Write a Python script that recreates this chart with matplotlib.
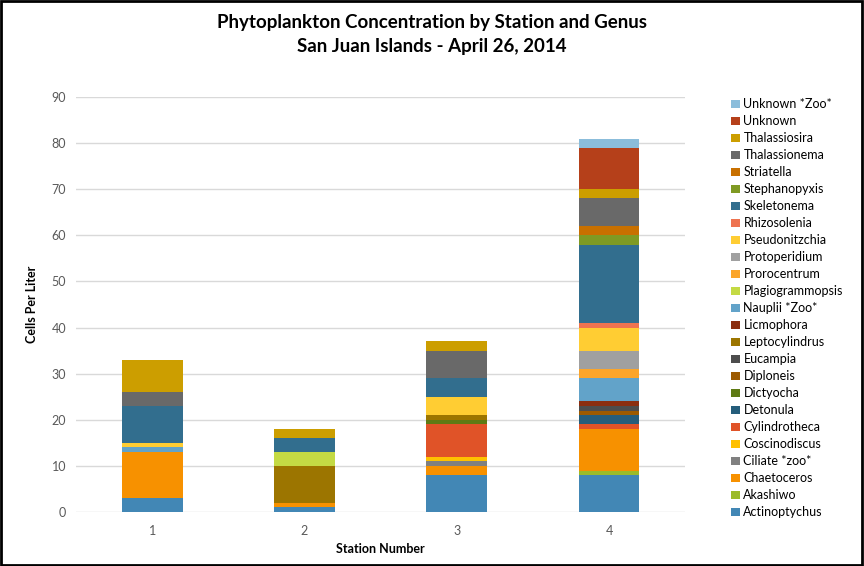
import numpy as np
import matplotlib
matplotlib.use("Agg")
import matplotlib.pyplot as plt
from matplotlib.patches import Patch, Rectangle

plt.rcParams['font.family'] = ['Lato', 'DejaVu Sans']

# data (bottom of stack first)
stations = ["1", "2", "3", "4"]
genera = ["Actinoptychus", "Akashiwo", "Chaetoceros", "Ciliate *zoo*", "Coscinodiscus",
          "Cylindrotheca", "Detonula", "Dictyocha", "Diploneis", "Eucampia",
          "Leptocylindrus", "Licmophora", "Nauplii *Zoo*", "Plagiogrammopsis", "Prorocentrum",
          "Protoperidium", "Pseudonitzchia", "Rhizosolenia", "Skeletonema", "Stephanopyxis",
          "Striatella", "Thalassionema", "Thalassiosira", "Unknown", "Unknown *Zoo*"]
counts = {
    "Actinoptychus":    [3, 1, 8, 8],
    "Akashiwo":         [0, 0, 0, 1],
    "Chaetoceros":      [10, 1, 2, 9],
    "Ciliate *zoo*":    [0, 0, 1, 0],
    "Coscinodiscus":    [0, 0, 1, 0],
    "Cylindrotheca":    [0, 0, 7, 1],
    "Detonula":         [0, 0, 0, 2],
    "Dictyocha":        [0, 0, 1, 0],
    "Diploneis":        [0, 0, 0, 1],
    "Eucampia":         [0, 0, 0, 1],
    "Leptocylindrus":   [0, 8, 1, 0],
    "Licmophora":       [0, 0, 0, 1],
    "Nauplii *Zoo*":    [1, 0, 0, 5],
    "Plagiogrammopsis": [0, 3, 0, 0],
    "Prorocentrum":     [0, 0, 0, 2],
    "Protoperidium":    [0, 0, 0, 4],
    "Pseudonitzchia":   [1, 0, 4, 5],
    "Rhizosolenia":     [0, 0, 0, 1],
    "Skeletonema":      [8, 3, 4, 17],
    "Stephanopyxis":    [0, 0, 0, 2],
    "Striatella":       [0, 0, 0, 2],
    "Thalassionema":    [3, 0, 6, 6],
    "Thalassiosira":    [7, 2, 2, 2],
    "Unknown":          [0, 0, 0, 9],
    "Unknown *Zoo*":    [0, 0, 0, 2],
}
colors = ["#4287B5", "#9BBB2A", "#F79100", "#808080", "#FFC000",
          "#E05328", "#255D7B", "#5E7A14", "#9C5A00", "#4D4D4D",
          "#9C7500", "#8B2E10", "#62A3C9", "#C4DA44", "#FBA52A",
          "#A0A0A0", "#FFCD33", "#EE7350", "#326E8E", "#7F9A23",
          "#C87000", "#696969", "#CC9E00", "#B5401A", "#8BBDDB"]

fig = plt.figure(figsize=(8.64, 5.66), dpi=100)
ax = fig.add_axes([0.088, 0.0954, 0.705, 0.7332])

x = np.arange(1, len(stations) + 1)
bottom = np.zeros(len(stations))
for g, c in zip(genera, colors):
    v = np.array(counts[g], dtype=float)
    ax.bar(x, v, 0.4, bottom=bottom, color=c, label=g, zorder=3)
    bottom += v

ax.set_xlim(0.5, 4.5)
ax.set_ylim(0, 90)
ax.set_yticks(range(0, 91, 10))
ax.set_xticks(x)
ax.set_xticklabels(stations)
ax.grid(axis='y', color='#D9D9D9', linewidth=1, zorder=0)
for s in ax.spines.values():
    s.set_visible(False)
ax.tick_params(length=0, colors='#595959', labelsize=9)
ax.tick_params(axis='y', pad=7)
ax.tick_params(axis='x', pad=9)
ax.set_ylabel("Cells Per Liter", fontsize=9, fontweight='bold', labelpad=10)
ax.set_xlabel("Station Number", fontsize=9, fontweight='bold', labelpad=5)

fig.text(0.5, 0.976, "Phytoplankton Concentration by Station and Genus\nSan Juan Islands - April 26, 2014",
         ha='center', va='top', fontsize=13.5, fontweight='bold', linespacing=1.5)

handles = [Patch(facecolor=c) for c in colors][::-1]
fig.legend(handles, genera[::-1], loc='upper left', bbox_to_anchor=(0.846, 0.826),
           frameon=False, fontsize=9, handlelength=0.7, handleheight=0.7,
           handletextpad=0.3, labelspacing=0.4, borderaxespad=0, borderpad=0)

fig.patches.append(Rectangle((0.001, 0.002), 0.997, 0.996, transform=fig.transFigure,
                             fill=False, edgecolor='black', linewidth=2))

fig.savefig("out.png", dpi=100)
